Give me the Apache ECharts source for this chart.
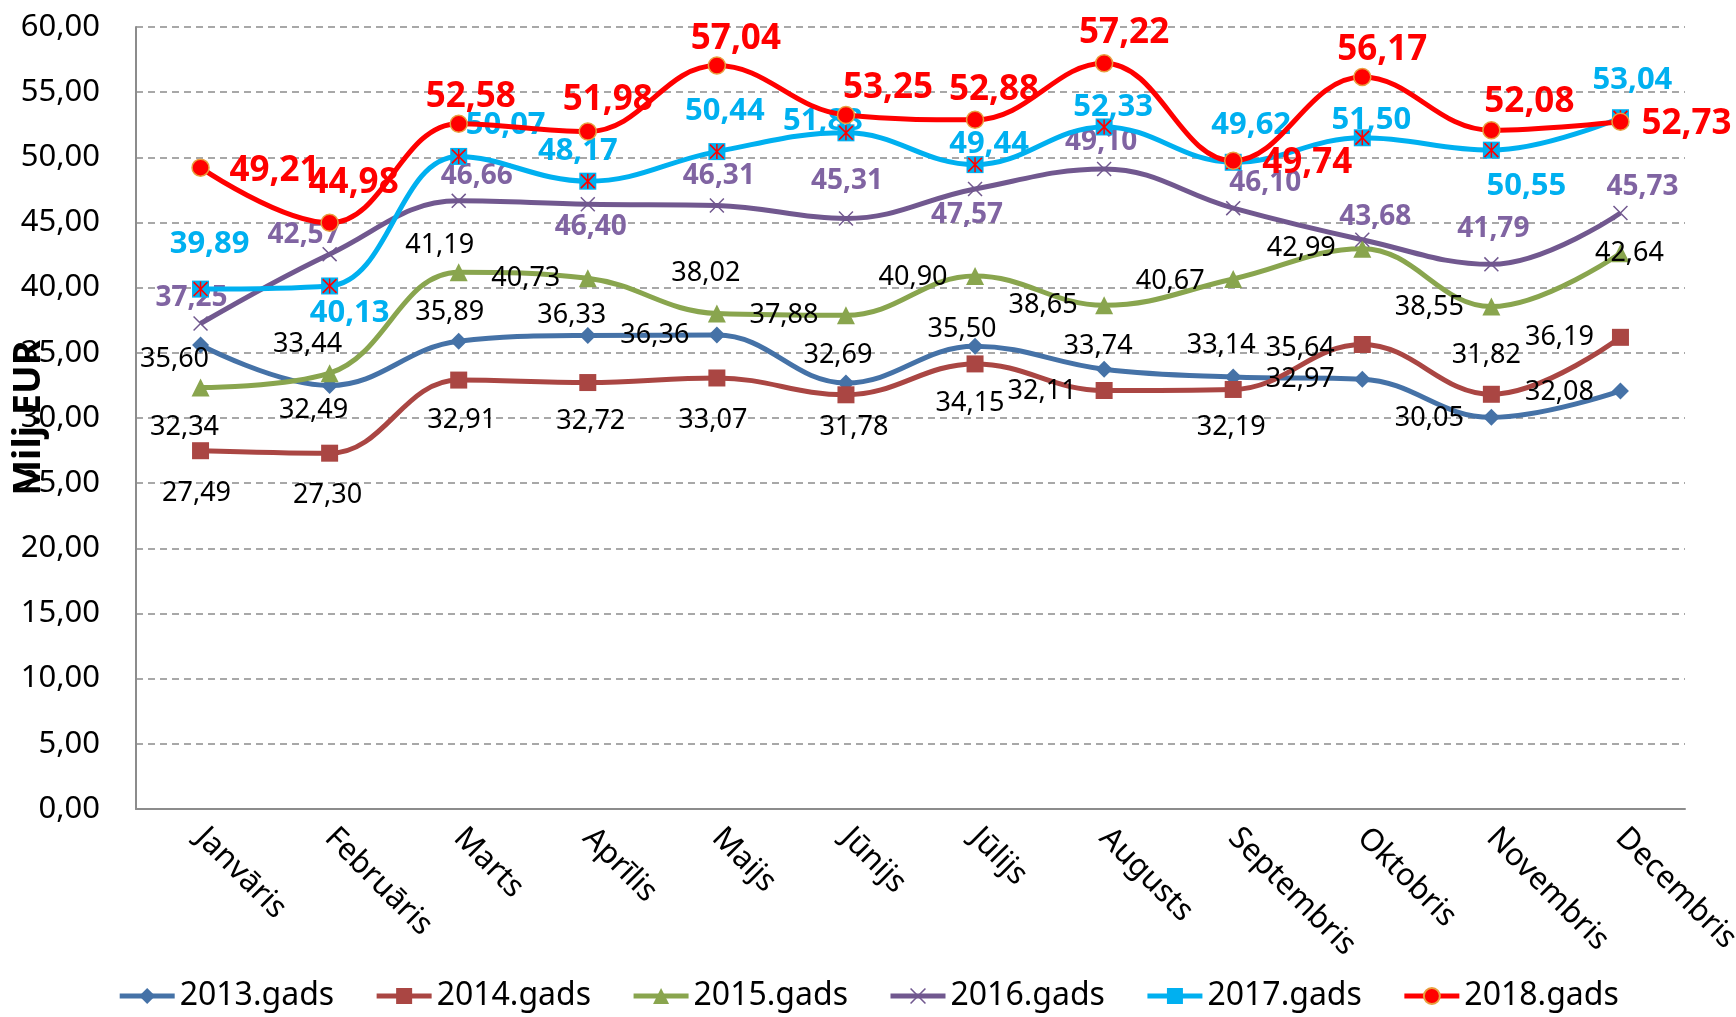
<!DOCTYPE html>
<html>
<head>
<meta charset="utf-8">
<script src="https://cdn.jsdelivr.net/npm/echarts@6/dist/echarts.min.js"></script>
<style>
  html, body { margin: 0; padding: 0; background: #fff; }
  #chart { width: 1736px; height: 1017px; }
</style>
</head>
<body>
<div id="chart"></div>
<script>
var months = ['Janvāris', 'Februāris', 'Marts', 'Aprīlis', 'Maijs', 'Jūnijs', 'Jūlijs', 'Augusts', 'Septembris', 'Oktobris', 'Novembris', 'Decembris'];
var yTicks = [0, 60, 5];

var y2013 = [35.60, 32.49, 35.89, 36.33, 36.36, 32.69, 35.50, 33.74, 33.14, 32.97, 30.05, 32.08];
var y2014 = [27.49, 27.30, 32.91, 32.72, 33.07, 31.78, 34.15, 32.11, 32.19, 35.64, 31.82, 36.19];
var y2015 = [32.34, 33.44, 41.19, 40.73, 38.02, 37.88, 40.90, 38.65, 40.67, 42.99, 38.55, 42.64];
var y2016 = [37.25, 42.57, 46.66, 46.40, 46.31, 45.31, 47.57, 49.10, 46.10, 43.68, 41.79, 45.73];
var y2017 = [39.89, 40.13, 50.07, 48.17, 50.44, 51.88, 49.44, 52.33, 49.62, 51.50, 50.55, 53.04];
var y2018 = [49.21, 44.98, 52.58, 51.98, 57.04, 53.25, 52.88, 57.22, 49.74, 56.17, 52.08, 52.73];

// where each data label sits, relative to its point (px)
var off2013 = [[-26, 14], [-16, 25], [-9, -29], [-16, -20], [-62, 0], [-8, -28], [-13, -17], [-6, -23], [-12, -32], [-62, 0], [-62, 1], [-61, 1]];
var off2014 = [[-4, 43], [-2, 42], [3, 40], [3, 39], [-4, 42], [8, 33], [-5, 39], [-62, 1], [-2, 38], [-62, 4], [-5, -39], [-61, 0]];
var off2015 = [[-16, 40], [-22, -29], [-19, -27], [-62, 0], [-11, -40], [-62, 0], [-62, 1], [-61, 0], [-63, 2], [-61, 0], [-62, 1], [9, 0]];
var off2016 = [[-9, -25], [-26, -19], [18, -25], [3, 23], [2, -29], [1, -37], [-8, 26], [-3, -27], [32, -25], [13, -23], [2, -35], [22, -26]];
var off2017 = [[9, -45], [20, 27], [47, -31], [-10, -30], [8, -40], [-23, -12], [14, -20], [9, -20], [18, -37], [9, -18], [35, 36], [12, -38]];
var off2018 = [[74, 3], [24, -40], [12, -27], [20, -31], [19, -27], [42, -27], [19, -30], [20, -30], [74, 2], [20, -27], [38, -28], [66, 2]];

var font = '"Noto Sans", "Liberation Sans", sans-serif';
var fmt = function(v) { return v.toFixed(2).replace('.', ','); };

var xPath = 'path://M0,0.7L0.7,0L10,9.3L9.3,10Z M9.3,0L10,0.7L0.7,10L0,9.3Z';
var starPath = 'path://M0,0.8L0.8,0L10,9.2L9.2,10Z M9.2,0L10,0.8L0.8,10L0,9.2Z M4.5,0L5.5,0L5.5,10L4.5,10Z';

function items(values, offsets) {
  return values.map(function(v, i) {
    return { value: v, label: { offset: offsets[i] } };
  });
}

function lineSeries(name, values, offsets, color, symbol, size, labelStyle) {
  return {
    name: name,
    type: 'line',
    smooth: 0.4,
    symbol: symbol,
    symbolSize: size,
    lineStyle: { color: color, width: 5 },
    itemStyle: { color: color },
    label: Object.assign({
      show: true,
      position: 'inside',
      fontFamily: font,
      formatter: function(p) { return fmt(p.value); }
    }, labelStyle),
    data: items(values, offsets)
  };
}

var chart = echarts.init(document.getElementById('chart'), null, { renderer: 'canvas' });

var s2018 = lineSeries('2018.gads', y2018, off2018, '#FF0000', 'circle', 17,
  { color: '#FF0000', fontSize: 35, fontWeight: 'bold' });
s2018.itemStyle = { color: '#FF0000', borderColor: '#E8A040', borderWidth: 1.5 };
s2018.z = 8;

var s2017 = lineSeries('2017.gads', y2017, off2017, '#00B0F0', 'rect', 17,
  { color: '#00B0F0', fontSize: 31, fontWeight: 'bold' });
s2017.z = 6;

chart.setOption({
  animation: false,
  textStyle: { fontFamily: font },
  grid: { left: 136, right: 51, top: 27, bottom: 208, outerBoundsMode: 'none' },
  legend: {
    data: ['2013.gads', '2014.gads', '2015.gads', '2016.gads', '2017.gads', '2018.gads'],
    bottom: 0,
    left: 'center',
    itemWidth: 55,
    itemHeight: 20,
    itemGap: 40,
    lineStyle: { width: 5 },
    textStyle: { color: '#000', fontSize: 32, fontFamily: font }
  },
  xAxis: {
    type: 'category',
    data: months,
    boundaryGap: true,
    axisLine: { lineStyle: { color: '#8C8C8C', width: 2 } },
    axisTick: { show: false },
    axisLabel: { color: '#000', fontSize: 31, rotate: -45, margin: 24, interval: 0 }
  },
  yAxis: {
    type: 'value',
    min: yTicks[0],
    max: yTicks[1],
    interval: yTicks[2],
    name: 'Milj.EUR',
    nameLocation: 'middle',
    nameGap: 88,
    nameMoveOverlap: false,
    nameTextStyle: { color: '#000', fontSize: 38, fontWeight: 'bold' },
    axisLine: { show: true, lineStyle: { color: '#8C8C8C', width: 2 } },
    axisTick: { show: false },
    splitLine: { lineStyle: { color: '#8C8C8C', width: 1.5, type: [7, 5] } },
    axisLabel: { color: '#000', fontSize: 31, margin: 36, formatter: fmt }
  },
  series: [
    lineSeries('2013.gads', y2013, off2013, '#4572A7', 'diamond', 17,
      { color: '#000', fontSize: 27 }),
    lineSeries('2014.gads', y2014, off2014, '#AA4643', 'rect', 17,
      { color: '#000', fontSize: 27 }),
    lineSeries('2015.gads', y2015, off2015, '#89A54E', 'triangle', 18,
      { color: '#000', fontSize: 27 }),
    lineSeries('2016.gads', y2016, off2016, '#71588F', xPath, 15,
      { color: '#8064A2', fontSize: 28, fontWeight: 'bold' }),
    s2017,
    {
      name: '2017 marks',
      type: 'line',
      smooth: 0.4,
      symbol: starPath,
      symbolSize: 15,
      lineStyle: { width: 0, opacity: 0 },
      itemStyle: { color: '#FF0000' },
      silent: true,
      z: 7,
      data: y2017
    },
    s2018
  ]
});
window.addEventListener('resize', function() { chart.resize(); });
</script>
</body>
</html>
